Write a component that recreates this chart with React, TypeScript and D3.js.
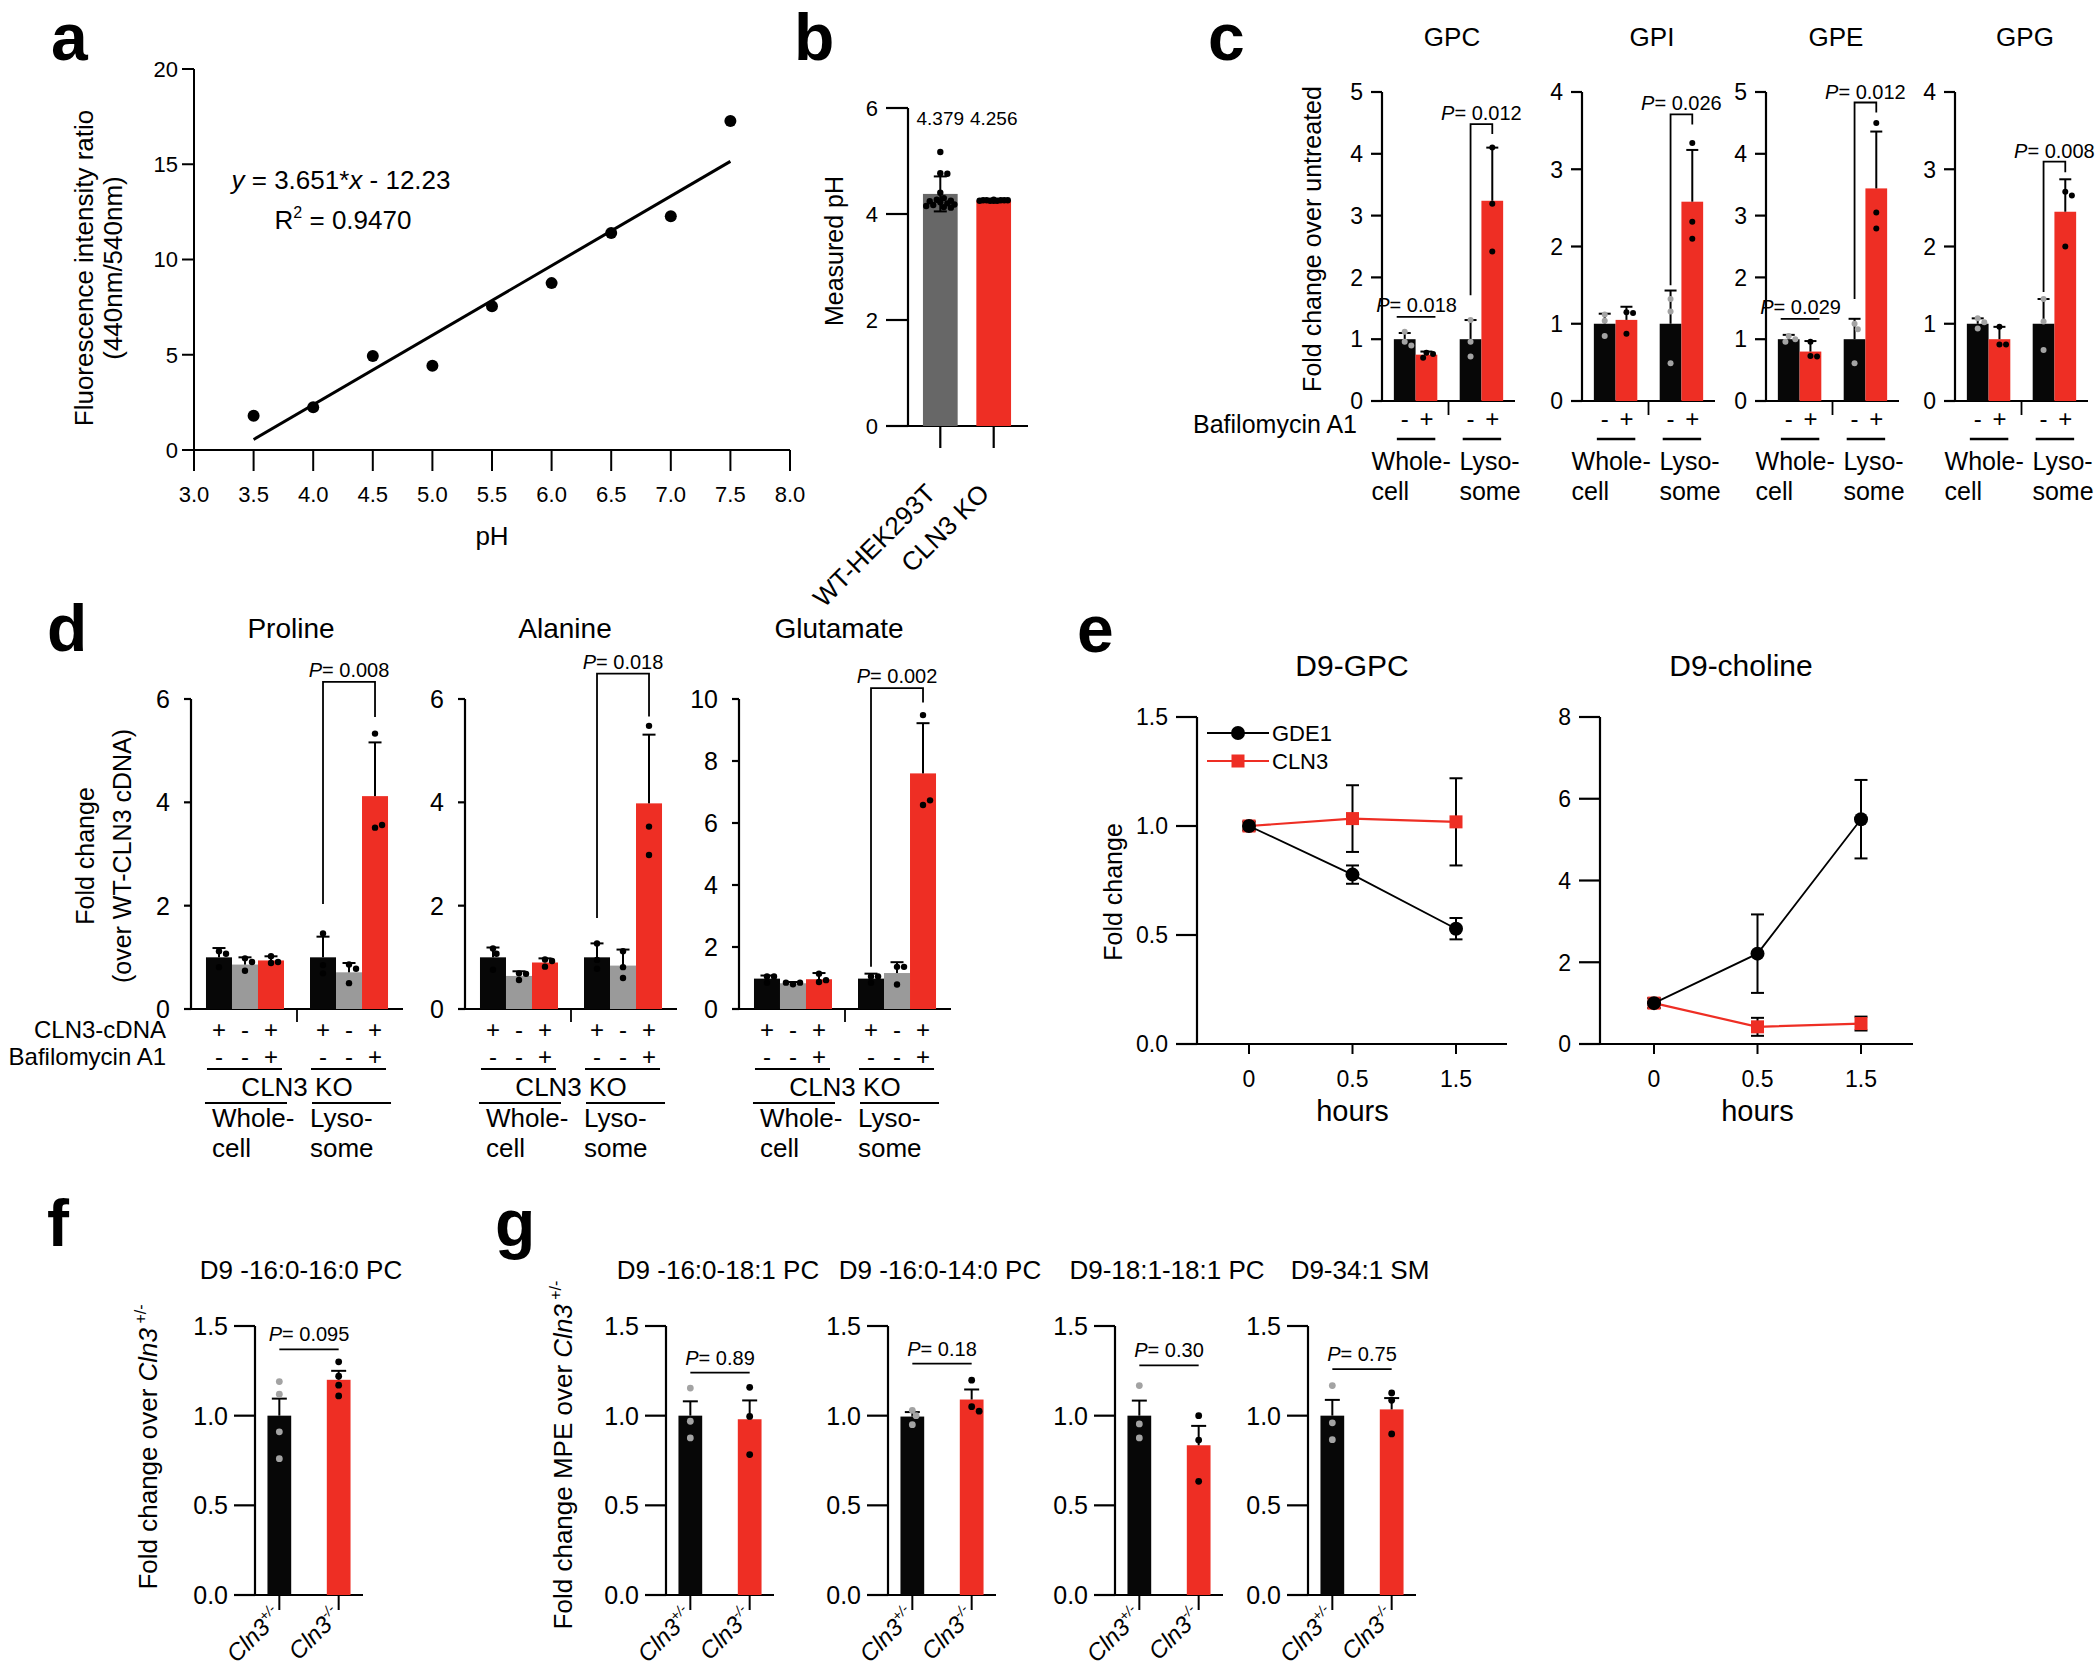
import React from 'react'
import * as d3 from 'd3'

const FONT = '"Liberation Sans", Arial, Helvetica, sans-serif'
const RED = '#ee2e24'
const BLK = '#070707'
const GRAY = '#9a9a9a'
const DARK = '#676767'
const DOTGRAY = '#a3a3a3'

// a: pH calibration curve
const aPH = [3.5, 4.0, 4.5, 5.0, 5.5, 6.0, 6.5, 7.0, 7.5]
const aRatio = [1.8, 2.25, 4.93, 4.42, 7.55, 8.76, 11.39, 12.27, 17.27]
const aSlope = 3.651
const aIntercept = -12.23
const aXTicks = [3.0, 3.5, 4.0, 4.5, 5.0, 5.5, 6.0, 6.5, 7.0, 7.5, 8.0]
const aYTicks = [0, 5, 10, 15, 20]

// b: measured lysosomal pH
const bGroups = ['WT-HEK293T', 'CLN3 KO']
const bMeans = [4.379, 4.256]
const bSD = [0.33, 0.012]
const bDotsWT = [5.17, 4.77, 4.76, 4.4, 4.3, 4.27, 4.25, 4.24, 4.22, 4.2, 4.18, 4.17, 4.15, 4.13, 4.12]
const bDotsKO = [4.27, 4.26, 4.26, 4.26, 4.25, 4.25, 4.26, 4.25, 4.26, 4.25]
const bYTicks = [0, 2, 4, 6]

// c: GPs, bafilomycin
const cTitles = ['GPC', 'GPI', 'GPE', 'GPG']
const cMax = [5, 4, 5, 4]
const cSites = ['Whole-cell', 'Lysosome']
const cTreat = ['-', '+']
const cMeans = [
  [1.0, 0.75, 1.0, 3.24],
  [1.0, 1.05, 1.0, 2.58],
  [1.0, 0.8, 1.0, 3.44],
  [1.0, 0.8, 1.0, 2.45],
]
const cSD = [
  [0.1, 0.05, 0.31, 0.86],
  [0.13, 0.17, 0.43, 0.67],
  [0.07, 0.17, 0.33, 0.92],
  [0.07, 0.16, 0.32, 0.42],
]
const cDots = [
  [[1.12, 0.96, 0.9], [0.78, 0.76, 0.7], [1.31, 0.96, 0.72], [4.1, 3.19, 2.42]],
  [[1.12, 1.04, 0.84], [1.15, 1.14, 0.87], [1.32, 1.16, 0.49], [3.34, 2.32, 2.1]],
  [[1.05, 1.0, 0.96], [0.96, 0.73, 0.72], [1.25, 1.16, 0.61], [4.5, 3.05, 2.79]],
  [[1.07, 1.02, 0.94], [0.96, 0.73, 0.73], [1.32, 1.03, 0.66], [2.71, 2.66, 2.0]],
]
const cP = ['0.012', '0.026', '0.012', '0.008']
const cBracket = [[1.71, 4.48, 4.32], [1.5, 3.71, 3.58], [1.65, 4.83, 4.67], [1.41, 3.1, 2.96]]
const cPWhole = ['0.018', null, '0.029', null]
const cWholeLine = [1.36, null, 1.33, null]

// d: amino acids
const dTitles = ['Proline', 'Alanine', 'Glutamate']
const dMax = [6, 6, 10]
const dMeans = [
  [1.0, 0.86, 0.94, 1.0, 0.71, 4.12],
  [1.0, 0.64, 0.9, 1.0, 0.84, 3.98],
  [0.98, 0.83, 0.96, 0.98, 1.16, 7.6],
]
const dSD = [
  [0.18, 0.14, 0.08, 0.4, 0.18, 1.04],
  [0.19, 0.09, 0.08, 0.27, 0.31, 1.33],
  [0.1, 0.04, 0.2, 0.16, 0.35, 1.62],
]
const dDots = [
  [[1.12, 1.07, 0.81], [0.98, 0.74, 0.91], [0.89, 1.02, 0.91], [1.46, 0.85, 0.69], [0.86, 0.78, 0.5], [5.33, 3.51, 3.56]],
  [[1.17, 1.07, 0.76], [0.69, 0.56, 0.68], [0.96, 0.82, 0.93], [1.27, 0.95, 0.78], [1.12, 0.81, 0.6], [5.48, 3.53, 2.98]],
  [[1.05, 1.05, 0.85], [0.8, 0.85, 0.85], [0.87, 1.14, 0.93], [1.05, 1.05, 0.85], [1.36, 1.36, 0.79], [9.48, 6.58, 6.73]],
]
const dCdna = ['+', '-', '+', '+', '-', '+']
const dBaf = ['-', '-', '+', '-', '-', '+']
const dP = ['0.008', '0.018', '0.002']
const dBracket = [[2.03, 6.33, 5.65], [1.76, 6.49, 5.66], [1.36, 10.35, 9.89]]

// e: time course
const eTimes = ['0', '0.5', '1.5']
const eGpcGde1 = [1.0, 0.777, 0.529]
const eGpcGde1Err = [0.02, 0.042, 0.049]
const eGpcCln3 = [1.0, 1.034, 1.019]
const eGpcCln3Err = [0.02, 0.153, 0.2]
const eChoGde1 = [1.0, 2.21, 5.5]
const eChoGde1Err = [0.12, 0.96, 0.96]
const eChoCln3 = [1.0, 0.42, 0.5]
const eChoCln3Err = [0.12, 0.22, 0.17]

// f, g: mouse lipids
const fgTitles = ['D9 -16:0-16:0 PC', 'D9 -16:0-18:1 PC', 'D9 -16:0-14:0 PC', 'D9-18:1-18:1 PC', 'D9-34:1 SM']
const fgGenotypes = ['+/-', '-/-']
const fgMeans = [[1.0, 1.2], [1.0, 0.98], [0.995, 1.09], [1.0, 0.835], [1.0, 1.035]]
const fgSEM = [[0.095, 0.05], [0.08, 0.105], [0.025, 0.056], [0.084, 0.108], [0.088, 0.063]]
const fgDots = [
  [[1.19, 1.12, 0.91, 0.76], [1.3, 1.22, 1.17, 1.11]],
  [[1.154, 0.969, 0.876], [1.158, 0.996, 0.783]],
  [[1.03, 1.0, 0.95], [1.198, 1.05, 1.025]],
  [[1.168, 0.954, 0.876], [1.0, 0.864, 0.634]],
  [[1.168, 0.96, 0.866], [1.127, 1.086, 0.898]],
]
const fgP = ['0.095', '0.89', '0.18', '0.30', '0.75']
const fgPLine = [1.37, 1.24, 1.29, 1.28, 1.26]
const fgTicks = [0, 0.5, 1.0, 1.5]

// spread dots sideways when they would overlap
function swarm(vals, y, cx, r, half) {
  const placed = []
  const step = r * 1.1
  return vals.map((v) => {
    const py = y(v)
    let best = cx
    let bestD = -1
    for (let k = 0; k < 40; k++) {
      const off = k === 0 ? 0 : (k % 2 ? 1 : -1) * Math.ceil(k / 2) * step
      if (Math.abs(off) > half) break
      const px = cx + off
      const d = placed.length ? Math.min(...placed.map((p) => Math.hypot(p[0] - px, p[1] - py))) : Infinity
      if (d >= 1.9 * r) { best = px; bestD = d; break }
      if (d > bestD) { bestD = d; best = px }
    }
    placed.push([best, py])
    return [best, py]
  })
}

const Letter = ({ x, y, c }) => (
  <text x={x} y={y} fontSize={66} fontWeight="bold">{c}</text>
)

const PLabel = ({ x, y, p, fs = 20 }) => (
  <text x={x} y={y} textAnchor="middle" fontSize={fs}>
    <tspan fontStyle="italic">P</tspan>= {p}
  </text>
)

function YAxis({ x, y, ticks, fmt, len, fs, gap = 7, sw = 2.2 }) {
  return (
    <g>
      <line x1={x} x2={x} y1={y(ticks[ticks.length - 1])} y2={y(ticks[0])} stroke="#000" strokeWidth={sw} />
      {ticks.map((t) => (
        <g key={t}>
          <line x1={x - len} x2={x} y1={y(t)} y2={y(t)} stroke="#000" strokeWidth={sw} />
          <text x={x - len - gap} y={y(t)} dy="0.36em" textAnchor="end" fontSize={fs}>{fmt(t)}</text>
        </g>
      ))}
    </g>
  )
}

function Bar({ x, w, y, mean, sd, fill, dots, dotFill, r = 3, cap, both = false }) {
  const cx = x + w / 2
  const pts = swarm(dots, y, cx, r, w / 2 - r)
  return (
    <g>
      <rect x={x} y={y(mean)} width={w} height={y(0) - y(mean)} fill={fill} />
      <line x1={cx} x2={cx} y1={y(both ? mean - sd : mean)} y2={y(mean + sd)} stroke="#000" strokeWidth={2} />
      <line x1={cx - cap / 2} x2={cx + cap / 2} y1={y(mean + sd)} y2={y(mean + sd)} stroke="#000" strokeWidth={2} />
      {both && <line x1={cx - cap / 2} x2={cx + cap / 2} y1={y(mean - sd)} y2={y(mean - sd)} stroke="#000" strokeWidth={2} />}
      {pts.map((p, i) => <circle key={i} cx={p[0]} cy={p[1]} r={r} fill={dotFill} />)}
    </g>
  )
}

function PanelA() {
  const x = d3.scaleLinear().domain([3, 8]).range([194, 790])
  const y = d3.scaleLinear().domain([0, 20]).range([450, 69])
  const fit = d3.line<number>().x((d) => x(d)).y((d) => y(aSlope * d + aIntercept))
  const y0 = y(0)
  return (
    <g>
      <Letter x={51} y={60} c="a" />
      <text transform="translate(93,268) rotate(-90)" textAnchor="middle" fontSize={26}>Fluorescence intensity ratio</text>
      <text transform="translate(122,268) rotate(-90)" textAnchor="middle" fontSize={26}>(440nm/540nm)</text>
      <line x1={x(3)} x2={x(3)} y1={y(20)} y2={y0 + 21} stroke="#000" strokeWidth={2} />
      <line x1={x(3)} x2={x(8)} y1={y0} y2={y0} stroke="#000" strokeWidth={2} />
      {aYTicks.map((t) => (
        <g key={t}>
          <line x1={x(3) - 12} x2={x(3)} y1={y(t)} y2={y(t)} stroke="#000" strokeWidth={2} />
          <text x={x(3) - 16} y={y(t)} dy="0.36em" textAnchor="end" fontSize={22}>{t}</text>
        </g>
      ))}
      {aXTicks.map((t) => (
        <g key={t}>
          <line x1={x(t)} x2={x(t)} y1={y0} y2={y0 + 21} stroke="#000" strokeWidth={2} />
          <text x={x(t)} y={y0 + 52} textAnchor="middle" fontSize={22}>{t.toFixed(1)}</text>
        </g>
      ))}
      <text x={x(5.5)} y={545} textAnchor="middle" fontSize={26}>pH</text>
      <text x={341} y={189} textAnchor="middle" fontSize={26}>
        <tspan fontStyle="italic">y</tspan> = 3.651*<tspan fontStyle="italic">x</tspan> - 12.23
      </text>
      <text x={343} y={229} textAnchor="middle" fontSize={26}>
        R<tspan fontSize={16} dy={-11}>2</tspan><tspan dy={11}> = 0.9470</tspan>
      </text>
      <path d={fit([3.5, 7.5]) || ''} fill="none" stroke="#000" strokeWidth={3} />
      {aPH.map((p, i) => <circle key={p} cx={x(p)} cy={y(aRatio[i])} r={6} fill="#000" />)}
    </g>
  )
}

function PanelB() {
  const y = d3.scaleLinear().domain([0, 6]).range([426, 108])
  const x = d3.scaleBand().domain(bGroups).range([908, 1026]).paddingInner(0.35).paddingOuter(0.28)
  const w = x.bandwidth()
  const fills = [DARK, RED]
  const dots = [bDotsWT, bDotsKO]
  const y0 = y(0)
  return (
    <g>
      <Letter x={794} y={60} c="b" />
      <text transform="translate(843,251) rotate(-90)" textAnchor="middle" fontSize={25}>Measured pH</text>
      <YAxis x={908} y={y} ticks={bYTicks} fmt={(t) => t} len={22} fs={22} gap={8} />
      <line x1={886} x2={1028} y1={y0} y2={y0} stroke="#000" strokeWidth={2.2} />
      {bGroups.map((g, i) => {
        const cx = x(g) + w / 2
        return (
          <g key={g}>
            <Bar x={x(g)} w={w} y={y} mean={bMeans[i]} sd={bSD[i]} fill={fills[i]} dots={dots[i]} dotFill="#000" r={3.2} cap={13} both={i === 0} />
            <text x={cx} y={125} textAnchor="middle" fontSize={19}>{bMeans[i]}</text>
            <line x1={cx} x2={cx} y1={y0} y2={y0 + 22} stroke="#000" strokeWidth={2.2} />
            <text transform={`translate(${cx - 3},${y0 + 69}) rotate(-45)`} textAnchor="end" fontSize={26}>{g}</text>
          </g>
        )
      })}
    </g>
  )
}

function PanelC() {
  const axes = [1382, 1582, 1766, 1955]
  return (
    <g>
      <Letter x={1208} y={60} c="c" />
      <text transform="translate(1321,239) rotate(-90)" textAnchor="middle" fontSize={25}>Fold change over untreated</text>
      <text x={1357} y={433} textAnchor="end" fontSize={25}>Bafilomycin A1</text>
      {cTitles.map((title, i) => {
        const ax = axes[i]
        const y = d3.scaleLinear().domain([0, cMax[i]]).range([401, 92])
        const gx = d3.scaleBand().domain(cSites).range([ax, ax + 133]).paddingInner(0.34).paddingOuter(0.18)
        const gw = gx.bandwidth()
        const bx = d3.scaleBand().domain(cTreat).range([0, gw])
        const bw = bx.bandwidth()
        const y0 = y(0)
        const centers = []
        const bars = []
        cSites.forEach((s, si) => cTreat.forEach((t, ti) => {
          const k = si * 2 + ti
          const bxl = gx(s) + bx(t)
          centers.push(bxl + bw / 2)
          bars.push(
            <Bar key={k} x={bxl} w={bw} y={y} mean={cMeans[i][k]} sd={cSD[i][k]} fill={t === '-' ? BLK : RED}
              dots={cDots[i][k]} dotFill={t === '-' ? DOTGRAY : '#000'} r={3} cap={12} />
          )
        }))
        const mid = gx(cSites[0]) + gw + (gx(cSites[1]) - gx(cSites[0]) - gw) / 2
        const br = cBracket[i]
        return (
          <g key={title}>
            <text x={ax + 70} y={46} textAnchor="middle" fontSize={26}>{title}</text>
            <YAxis x={ax} y={y} ticks={d3.range(0, cMax[i] + 1)} fmt={(t) => t} len={11} fs={23} gap={8} />
            <line x1={ax - 11} x2={ax + 133} y1={y0} y2={y0} stroke="#000" strokeWidth={2.2} />
            <line x1={mid} x2={mid} y1={y0} y2={y0 + 14} stroke="#000" strokeWidth={1.8} />
            {bars}
            <path d={`M${centers[2]},${y(br[0])}V${y(br[1])}H${centers[3]}V${y(br[2])}`} fill="none" stroke="#000" strokeWidth={1.8} />
            <PLabel x={(centers[2] + centers[3]) / 2} y={y(br[1]) - 4} p={cP[i]} />
            {cPWhole[i] && (
              <g>
                <line x1={centers[0] - 8} x2={centers[1] + 9} y1={y(cWholeLine[i])} y2={y(cWholeLine[i])} stroke="#000" strokeWidth={1.8} />
                <PLabel x={(centers[0] + centers[1]) / 2 + 1} y={y(cWholeLine[i]) - 5} p={cPWhole[i]} />
              </g>
            )}
            {cTreat.concat(cTreat).map((t, k) => (
              <text key={k} x={centers[k]} y={427} textAnchor="middle" fontSize={24}>{t}</text>
            ))}
            {cSites.map((s, si) => {
              const c = gx(s) + gw / 2
              return (
                <g key={s}>
                  <line x1={gx(s) + 3} x2={gx(s) + gw - 2} y1={439} y2={439} stroke="#000" strokeWidth={2.5} />
                  <text x={c - (si === 0 ? 44 : 22)} y={470} fontSize={25}>{si === 0 ? 'Whole-' : 'Lyso-'}</text>
                  <text x={c - (si === 0 ? 44 : 22)} y={500} fontSize={25}>{si === 0 ? 'cell' : 'some'}</text>
                </g>
              )
            })}
          </g>
        )
      })}
    </g>
  )
}

function PanelD() {
  const axes = [191, 465, 739]
  const fills = [BLK, GRAY, RED]
  return (
    <g>
      <Letter x={47} y={651} c="d" />
      <text transform="translate(94,856) rotate(-90)" textAnchor="middle" fontSize={25}>Fold change</text>
      <text transform="translate(131,856) rotate(-90)" textAnchor="middle" fontSize={25}>(over WT-CLN3 cDNA)</text>
      <text x={166} y={1038} textAnchor="end" fontSize={24}>CLN3-cDNA</text>
      <text x={166} y={1065} textAnchor="end" fontSize={24}>Bafilomycin A1</text>
      {dTitles.map((title, i) => {
        const ax = axes[i]
        const y = d3.scaleLinear().domain([0, dMax[i]]).range([1009, 699])
        const gx = d3.scaleBand().domain(cSites).range([ax, ax + 212]).paddingInner(0.25).paddingOuter(0.144)
        const gw = gx.bandwidth()
        const bx = d3.scaleBand().domain(d3.range(3).map(String)).range([0, gw])
        const bw = bx.bandwidth()
        const y0 = y(0)
        const centers = dMeans[i].map((_, k) => gx(cSites[Math.floor(k / 3)]) + bx(String(k % 3)) + bw / 2)
        const mid = gx(cSites[0]) + gw + (gx(cSites[1]) - gx(cSites[0]) - gw) / 2
        const br = dBracket[i]
        const ticks = d3.range(0, dMax[i] + 1, 2)
        return (
          <g key={title}>
            <text x={ax + 100} y={638} textAnchor="middle" fontSize={28}>{title}</text>
            <YAxis x={ax} y={y} ticks={ticks} fmt={(t) => t} len={7} fs={25} gap={14} />
            <line x1={ax - 7} x2={ax + 212} y1={y0} y2={y0} stroke="#000" strokeWidth={2.2} />
            <line x1={mid} x2={mid} y1={y0} y2={y0 + 13} stroke="#000" strokeWidth={1.8} />
            {dMeans[i].map((m, k) => (
              <Bar key={k} x={centers[k] - bw / 2} w={bw} y={y} mean={m} sd={dSD[i][k]} fill={fills[k % 3]}
                dots={dDots[i][k]} dotFill="#000" r={3.2} cap={13} />
            ))}
            <path d={`M${centers[3]},${y(br[0])}V${y(br[1])}H${centers[5]}V${y(br[2])}`} fill="none" stroke="#000" strokeWidth={1.8} />
            <PLabel x={(centers[3] + centers[5]) / 2} y={y(br[1]) - 5} p={dP[i]} />
            {centers.map((c, k) => (
              <g key={k}>
                <text x={c} y={1038} textAnchor="middle" fontSize={24}>{dCdna[k]}</text>
                <text x={c} y={1065} textAnchor="middle" fontSize={24}>{dBaf[k]}</text>
              </g>
            ))}
            <text x={mid} y={1096} textAnchor="middle" fontSize={26}>CLN3 KO</text>
            {cSites.map((s, si) => (
              <g key={s}>
                <line x1={gx(s) + 1} x2={gx(s) + gw - 2} y1={1069} y2={1069} stroke="#000" strokeWidth={2} />
                <line x1={gx(s) - 1 + si * 3} x2={gx(s) + gw + 3} y1={1103} y2={1103} stroke="#000" strokeWidth={2} />
                <text x={gx(s) + (si === 0 ? 6 : 0)} y={1127} fontSize={26}>{si === 0 ? 'Whole-' : 'Lyso-'}</text>
                <text x={gx(s) + (si === 0 ? 6 : 0)} y={1157} fontSize={26}>{si === 0 ? 'cell' : 'some'}</text>
              </g>
            ))}
          </g>
        )
      })}
    </g>
  )
}

function TimePlot({ ax, xEnd, x0, x1, max, ticks, fmt, gde, gdeErr, cln, clnErr, title, titleX }) {
  const y = d3.scaleLinear().domain([0, max]).range([1044, 717])
  const x = d3.scalePoint().domain(eTimes).range([x0, x1])
  const ln = d3.line<number>().x((_, i) => x(eTimes[i])).y((d) => y(d))
  const y0 = y(0)
  const err = (vals, errs, key) => vals.map((v, i) => {
    const cx = x(eTimes[i])
    return (
      <g key={key + i}>
        <line x1={cx} x2={cx} y1={y(v - errs[i])} y2={y(v + errs[i])} stroke="#000" strokeWidth={2} />
        <line x1={cx - 6.5} x2={cx + 6.5} y1={y(v - errs[i])} y2={y(v - errs[i])} stroke="#000" strokeWidth={2} />
        <line x1={cx - 6.5} x2={cx + 6.5} y1={y(v + errs[i])} y2={y(v + errs[i])} stroke="#000" strokeWidth={2} />
      </g>
    )
  })
  return (
    <g>
      <text x={titleX} y={676} textAnchor="middle" fontSize={30}>{title}</text>
      <YAxis x={ax} y={y} ticks={ticks} fmt={fmt} len={21} fs={23} gap={8} />
      <line x1={ax - 21} x2={xEnd} y1={y0} y2={y0} stroke="#000" strokeWidth={2.2} />
      {eTimes.map((t) => (
        <g key={t}>
          <line x1={x(t)} x2={x(t)} y1={y0} y2={y0 + 10} stroke="#000" strokeWidth={2} />
          <text x={x(t)} y={1087} textAnchor="middle" fontSize={23}>{t}</text>
        </g>
      ))}
      <text x={x(eTimes[1])} y={1121} textAnchor="middle" fontSize={29}>hours</text>
      {err(cln, clnErr, 'c')}
      {err(gde, gdeErr, 'g')}
      <path d={ln(cln) || ''} fill="none" stroke={RED} strokeWidth={2.2} />
      {cln.map((v, i) => <rect key={i} x={x(eTimes[i]) - 6.5} y={y(v) - 6.5} width={13} height={13} fill={RED} />)}
      <path d={ln(gde) || ''} fill="none" stroke="#000" strokeWidth={1.8} />
      {gde.map((v, i) => <circle key={i} cx={x(eTimes[i])} cy={y(v)} r={7} fill="#000" />)}
    </g>
  )
}

function PanelE() {
  return (
    <g>
      <Letter x={1077} y={652} c="e" />
      <text transform="translate(1122,892) rotate(-90)" textAnchor="middle" fontSize={25}>Fold change</text>
      <TimePlot ax={1197} xEnd={1507} x0={1249} x1={1456} max={1.5} ticks={[0, 0.5, 1.0, 1.5]} fmt={(t) => t.toFixed(1)}
        gde={eGpcGde1} gdeErr={eGpcGde1Err} cln={eGpcCln3} clnErr={eGpcCln3Err} title="D9-GPC" titleX={1352} />
      <TimePlot ax={1600} xEnd={1913} x0={1654} x1={1861} max={8} ticks={[0, 2, 4, 6, 8]} fmt={(t) => t}
        gde={eChoGde1} gdeErr={eChoGde1Err} cln={eChoCln3} clnErr={eChoCln3Err} title="D9-choline" titleX={1741} />
      <line x1={1207} x2={1269} y1={733} y2={733} stroke="#000" strokeWidth={1.8} />
      <circle cx={1238} cy={733} r={7} fill="#000" />
      <text x={1272} y={741} fontSize={22}>GDE1</text>
      <line x1={1207} x2={1269} y1={761} y2={761} stroke={RED} strokeWidth={2.2} />
      <rect x={1231.5} y={754.5} width={13} height={13} fill={RED} />
      <text x={1272} y={769} fontSize={22}>CLN3</text>
    </g>
  )
}

function TwoBar({ ax, i, titleX }) {
  const y = d3.scaleLinear().domain([0, 1.5]).range([1595, 1326])
  const x = d3.scaleBand().domain(fgGenotypes).range([ax, ax + 108]).paddingInner(0.6).paddingOuter(0.21)
  const w = x.bandwidth()
  const y0 = y(0)
  const cs = fgGenotypes.map((g) => x(g) + w / 2)
  return (
    <g>
      <text x={titleX} y={1279} textAnchor="middle" fontSize={26}>{fgTitles[i]}</text>
      <YAxis x={ax} y={y} ticks={fgTicks} fmt={(t) => t.toFixed(1)} len={21} fs={25} gap={6} />
      <line x1={ax - 21} x2={ax + 108} y1={y0} y2={y0} stroke="#000" strokeWidth={2.2} />
      {fgGenotypes.map((g, k) => (
        <g key={g}>
          <Bar x={x(g)} w={w} y={y} mean={fgMeans[i][k]} sd={fgSEM[i][k]} fill={k === 0 ? BLK : RED}
            dots={fgDots[i][k]} dotFill={k === 0 ? DOTGRAY : '#000'} r={3.4} cap={15} />
          <line x1={cs[k]} x2={cs[k]} y1={y0} y2={y0 + 15} stroke="#000" strokeWidth={2} />
          <text transform={`translate(${cs[k] + 4},${y0 + 22}) rotate(-45)`} textAnchor="end" fontSize={24} fontStyle="italic">
            Cln3<tspan fontSize={14} dy={-10}>{g}</tspan>
          </text>
        </g>
      ))}
      <line x1={cs[0]} x2={cs[1]} y1={y(fgPLine[i])} y2={y(fgPLine[i])} stroke="#000" strokeWidth={1.8} />
      <PLabel x={(cs[0] + cs[1]) / 2} y={y(fgPLine[i]) - 8} p={fgP[i]} />
    </g>
  )
}

function PanelFG() {
  const gAxes = [666, 888, 1115, 1308]
  return (
    <g>
      <Letter x={47} y={1246} c="f" />
      <text transform="translate(157,1447) rotate(-90)" textAnchor="middle" fontSize={26}>
        Fold change over <tspan fontStyle="italic">Cln3</tspan><tspan fontSize={16} dy={-11}> +/-</tspan>
      </text>
      <TwoBar ax={255} i={0} titleX={301} />
      <Letter x={495} y={1246} c="g" />
      <text transform="translate(572,1455) rotate(-90)" textAnchor="middle" fontSize={26}>
        Fold change MPE over <tspan fontStyle="italic">Cln3</tspan><tspan fontSize={16} dy={-11}> +/-</tspan>
      </text>
      {gAxes.map((ax, k) => <TwoBar key={ax} ax={ax} i={k + 1} titleX={ax + 52} />)}
    </g>
  )
}

export default function App() {
  return (
    <svg width={2100} height={1673} viewBox="0 0 2100 1673" fontFamily={FONT}
      style={{ position: 'absolute', left: 0, top: 0, background: '#fff' }}>
      <rect width={2100} height={1673} fill="#fff" />
      <PanelA />
      <PanelB />
      <PanelC />
      <PanelD />
      <PanelE />
      <PanelFG />
    </svg>
  )
}
